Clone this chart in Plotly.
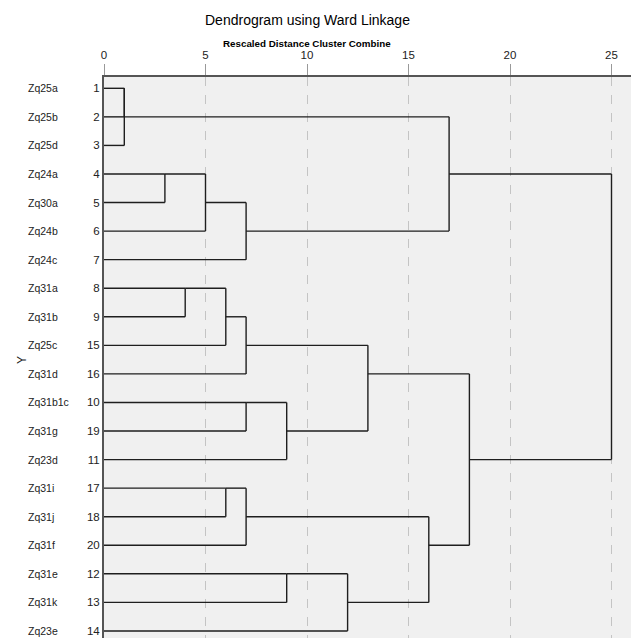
import plotly.graph_objects as go

# ---- data ----
leaf_names = ["Zq25a", "Zq25b", "Zq25d", "Zq24a", "Zq30a", "Zq24b", "Zq24c",
              "Zq31a", "Zq31b", "Zq25c", "Zq31d", "Zq31b1c", "Zq31g", "Zq23d",
              "Zq31i", "Zq31j", "Zq31f", "Zq31e", "Zq31k", "Zq23e"]
leaf_numbers = ["1", "2", "3", "4", "5", "6", "7", "8", "9", "15", "16", "10",
                "19", "11", "17", "18", "20", "12", "13", "14"]
# merges: ids 1..20 are leaves (display order); new clusters get ids 21, 22, ...
merge_a = [1, 21, 4, 23, 24, 22, 8, 27, 28, 12, 30, 29, 15, 33, 18, 35, 34, 32, 26]
merge_b = [2, 3, 5, 6, 7, 25, 9, 10, 11, 13, 14, 31, 16, 17, 19, 20, 36, 37, 38]
merge_height = [1, 1, 3, 5, 7, 17, 4, 6, 7, 7, 9, 13, 6, 7, 9, 12, 16, 18, 25]
x_ticks = [0, 5, 10, 15, 20, 25]

FONT = "Liberation Sans, Arial, sans-serif"

# ---- build dendrogram segments (SPSS style) ----
n = len(leaf_names)
rep = {i + 1: i + 1 for i in range(n)}
hgt = {i + 1: 0 for i in range(n)}
xs, ys = [], []
for k, (a, b, h) in enumerate(zip(merge_a, merge_b, merge_height)):
    cid = n + 1 + k
    for c in (a, b):
        xs += [hgt[c], h, None]
        ys += [rep[c], rep[c], None]
    xs += [h, h, None]
    ys += [rep[a], rep[b], None]
    lo, hi = min(rep[a], rep[b]), max(rep[a], rep[b])
    rep[cid] = (lo + hi) // 2
    hgt[cid] = h

fig = go.Figure()
fig.add_trace(go.Scatter(x=xs, y=ys, mode="lines",
                         line=dict(color="#1e1e1e", width=1.4),
                         hoverinfo="skip", showlegend=False))

W, H = 631, 638
L, T = 104, 77
pw, ph = W - L, H - T

def py(p):
    return (H - p) / ph

def px(p):
    return (p - L) / pw

ann = []
ann.append(dict(text="Dendrogram using Ward Linkage", x=px(307), y=py(20),
                xref="paper", yref="paper", showarrow=False, yanchor="middle",
                font=dict(family=FONT, size=14, color="#000")))
ann.append(dict(text="<b>Rescaled Distance Cluster Combine</b>", x=px(307), y=py(43),
                xref="paper", yref="paper", showarrow=False, yanchor="middle",
                font=dict(family=FONT, size=9.8, color="#000")))
ann.append(dict(text="Y", x=px(13), y=py(360), xref="paper", yref="paper",
                showarrow=False, textangle=-90, yanchor="middle",
                font=dict(family=FONT, size=12, color="#222")))
for i, name in enumerate(leaf_names):
    ann.append(dict(text=name, x=px(26), y=i + 1, xref="paper", yref="y",
                    xanchor="left", yanchor="middle", showarrow=False,
                    font=dict(family=FONT, size=10.5, color="#222")))

fig.update_layout(
    width=W, height=H,
    margin=dict(l=L, r=0, t=T, b=0),
    paper_bgcolor="white", plot_bgcolor="#f0f0f0",
    annotations=ann,
    font=dict(family=FONT, size=11, color="#222"),
)
fig.update_xaxes(side="top", range=[0, pw / 20.3], tickvals=x_ticks,
                 ticks="outside", ticklen=11, tickcolor="#999", tickwidth=1,
                 showline=True, linecolor="#555", linewidth=2,
                 showgrid=True, gridcolor="#c4c4c4", griddash="dash", gridwidth=1,
                 zeroline=False, automargin=False,
                 tickfont=dict(family=FONT, size=11.5, color="#222"))
fig.update_yaxes(range=[1 + (638 - 88.3) / 28.56, 1 - (88.3 - T) / 28.56],
                 tickvals=list(range(1, n + 1)), ticktext=leaf_numbers,
                 ticks="", showline=True, linecolor="#555", linewidth=2,
                 showgrid=False, zeroline=False, automargin=False,
                 tickfont=dict(family=FONT, size=11.5, color="#222"))

fig.write_html("out.html", config={"displayModeBar": False},
               post_script="document.body.style.margin='0';document.body.style.overflow='hidden';")
